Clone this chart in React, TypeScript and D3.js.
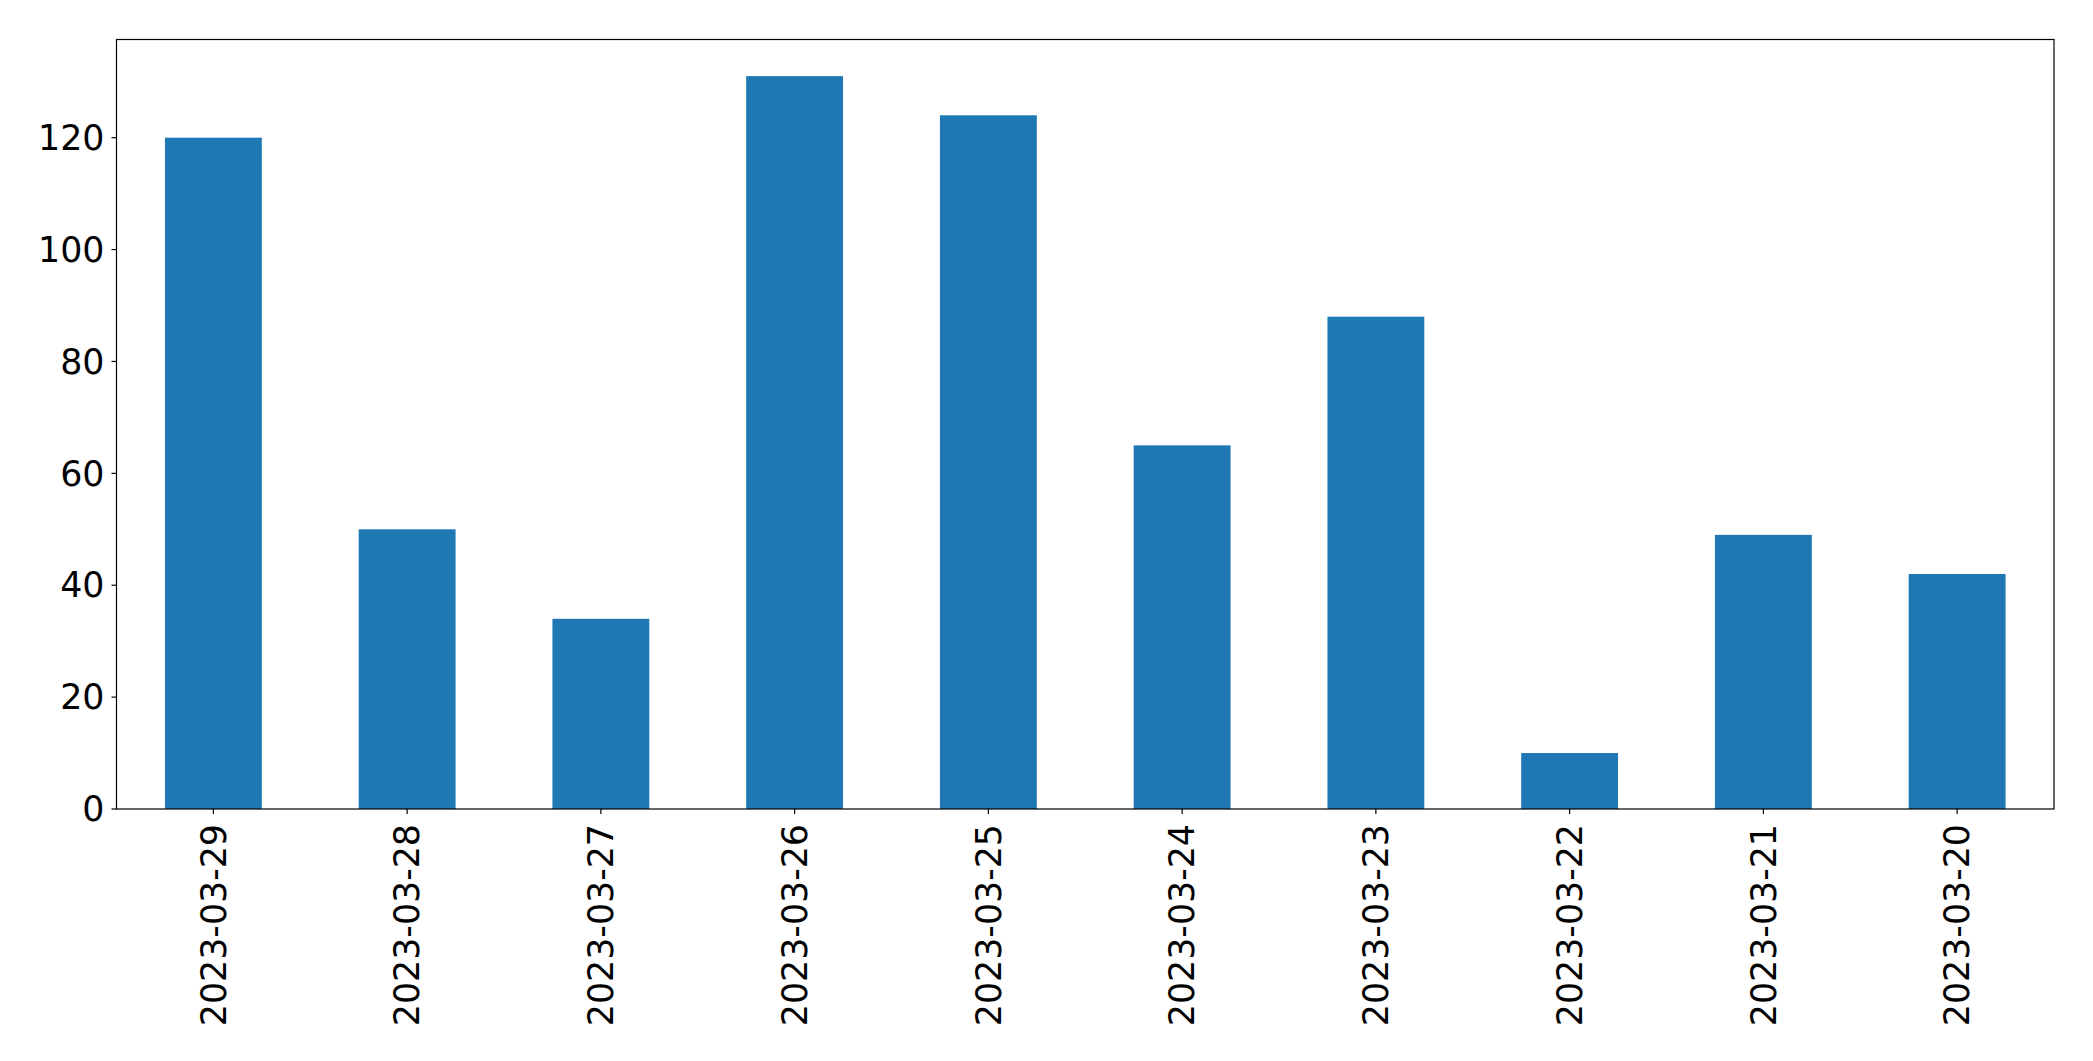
import React from "react";
import * as d3 from "d3";

const categories = [
  "2023-03-29", "2023-03-28", "2023-03-27", "2023-03-26", "2023-03-25",
  "2023-03-24", "2023-03-23", "2023-03-22", "2023-03-21", "2023-03-20",
];
const values = [120, 50, 34, 131, 124, 65, 88, 10, 49, 42];
const yTicks = [0, 20, 40, 60, 80, 100, 120];

const W = 2093;
const H = 1061;
const M = { left: 116.5, right: 2054, top: 39.5, bottom: 809 };
const FONT = "'DejaVu Sans', sans-serif";
const FS = 34.8;

export default function App() {
  const x = d3
    .scaleBand<string>()
    .domain(categories)
    .range([M.left, M.right])
    .paddingInner(0.5)
    .paddingOuter(0.25);
  const yMax = d3.max(values)! * 1.05;
  const y = d3.scaleLinear().domain([0, yMax]).range([M.bottom, M.top]);

  return (
    <svg
      width={W}
      height={H}
      style={{ position: "absolute", left: 0, top: 0, background: "#fff" }}
      fontFamily={FONT}
    >
      <rect x={0} y={0} width={W} height={H} fill="#fff" />
      {categories.map((c, i) => (
        <rect
          key={c}
          x={x(c)}
          y={y(values[i])}
          width={x.bandwidth()}
          height={y(0) - y(values[i])}
          fill="#1f77b4"
        />
      ))}
      <rect
        x={M.left}
        y={M.top}
        width={M.right - M.left}
        height={M.bottom - M.top}
        fill="none"
        stroke="#000"
        strokeWidth={1.2}
      />
      {yTicks.map((t) => (
        <g key={t}>
          <line x1={M.left - 5} x2={M.left} y1={y(t)} y2={y(t)} stroke="#000" strokeWidth={1.2} />
          <text
            x={M.left - 12}
            y={y(t)}
            dy="0.35em"
            textAnchor="end"
            fontSize={FS}
            fill="#000"
          >
            {t}
          </text>
        </g>
      ))}
      {categories.map((c) => {
        const cx = x(c)! + x.bandwidth() / 2;
        return (
          <g key={c}>
            <line x1={cx} x2={cx} y1={M.bottom} y2={M.bottom + 5} stroke="#000" strokeWidth={1.2} />
            <text
              transform={`translate(${cx},${M.bottom + 15}) rotate(-90)`}
              textAnchor="end"
              dy="0.35em"
              fontSize={FS}
              fill="#000"
            >
              {c}
            </text>
          </g>
        );
      })}
    </svg>
  );
}
